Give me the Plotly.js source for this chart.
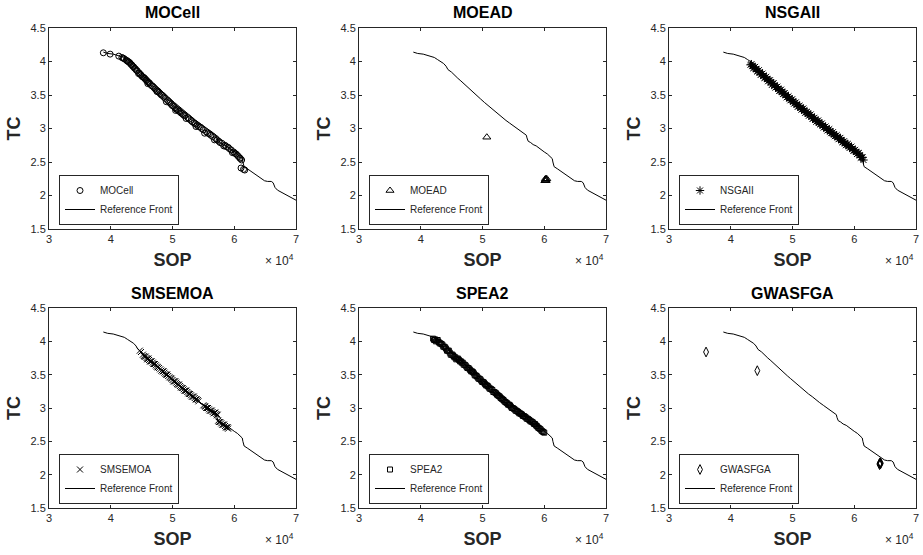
<!DOCTYPE html>
<html>
<head>
<meta charset="utf-8">
<script src="https://cdn.plot.ly/plotly-3.0.1.min.js"></script>
<style>html,body{margin:0;padding:0;background:#fff;}#chart{width:923px;height:555px;}</style>
</head>
<body>
<div id="chart"></div>
<script>
// SOP values are in units of 10^4 (as shown on the axis)
const algorithms = ["MOCell", "MOEAD", "NSGAII", "SMSEMOA", "SPEA2", "GWASFGA"];

const refSOP = [3.88,3.95,4.04,4.12,4.17,4.22,4.27,4.32,4.37,4.41,4.44,4.50,4.55,4.60,4.65,4.70,4.76,4.82,4.87,4.92,4.97,5.03,5.08,5.14,5.20,5.26,5.32,5.38,5.44,5.50,5.56,5.62,5.68,5.71,5.72,5.74,5.78,5.82,5.87,5.91,5.96,6.00,6.05,6.10,6.13,6.14,6.16,6.21,6.27,6.33,6.39,6.44,6.49,6.54,6.60,6.63,6.66,6.70,6.76,6.83,6.90,6.96,7.00];
const refTC  = [4.14,4.12,4.11,4.09,4.08,4.06,4.03,4.00,3.97,3.93,3.88,3.84,3.79,3.75,3.71,3.67,3.62,3.57,3.52,3.48,3.44,3.39,3.35,3.31,3.26,3.21,3.17,3.12,3.08,3.04,3.00,2.96,2.92,2.90,2.86,2.81,2.79,2.76,2.74,2.71,2.68,2.65,2.62,2.57,2.55,2.50,2.43,2.40,2.36,2.32,2.28,2.25,2.22,2.21,2.21,2.19,2.12,2.08,2.05,2.01,1.98,1.95,1.93];

const mocellSOP = [3.88,3.99,4.13,4.18,4.22,4.25,4.28,4.31,4.34,4.37,4.40,4.43,4.46,4.49,4.52,4.55,4.58,4.61,4.64,4.68,4.72,4.76,4.80,4.84,4.88,4.92,4.96,5.00,5.04,5.08,5.12,5.16,5.20,5.25,5.30,5.35,5.40,5.45,5.50,5.55,5.60,5.65,5.70,5.75,5.80,5.85,5.90,5.95,5.99,6.03,6.07,6.10,6.12,6.11,6.15,6.17,
  4.45,4.60,4.75,4.90,5.05,5.22,5.38,5.52,5.68,5.83,5.97,
  4.20,4.265,4.295,4.325,4.355,4.385,4.415,4.475,4.505,4.535,4.565,4.595,4.625,4.66,4.70,4.74,4.78,4.82,4.86,4.94,4.98,5.02,5.06,5.10,5.14,5.18,5.27,5.32,5.37,5.42,5.47,5.57,5.62,5.72,5.77,5.87,5.92,6.01,6.05,6.09];
const mocellTC  = [4.13,4.11,4.08,4.06,4.04,4.02,4.00,3.98,3.95,3.92,3.89,3.86,3.83,3.80,3.77,3.75,3.72,3.69,3.66,3.63,3.59,3.56,3.52,3.49,3.45,3.42,3.38,3.34,3.31,3.28,3.25,3.22,3.19,3.16,3.12,3.08,3.05,3.02,2.98,2.95,2.92,2.88,2.85,2.81,2.78,2.75,2.72,2.68,2.65,2.62,2.58,2.55,2.53,2.41,2.39,2.38,
  3.82,3.67,3.55,3.40,3.27,3.15,3.03,2.93,2.83,2.74,2.64,
  4.05,4.01,3.99,3.96,3.93,3.90,3.87,3.81,3.78,3.76,3.73,3.70,3.68,3.64,3.61,3.57,3.54,3.50,3.47,3.40,3.36,3.33,3.29,3.26,3.23,3.20,3.14,3.10,3.07,3.03,3.00,2.93,2.90,2.83,2.79,2.73,2.70,2.63,2.60,2.56];

const moeadSOP = [5.07,6.01,6.02,6.03,6.04,6.02,6.03];
const moeadTC  = [2.87,2.22,2.23,2.24,2.25,2.25,2.22];

const nsgaSOP = [4.32,4.35,4.38,4.41,4.44,4.47,4.50,4.53,4.56,4.59,4.62,4.65,4.68,4.71,4.74,4.77,4.80,4.83,4.86,4.89,4.92,4.95,4.98,5.01,5.04,5.07,5.10,5.13,5.16,5.19,5.22,5.25,5.28,5.31,5.34,5.37,5.40,5.43,5.46,5.49,5.52,5.55,5.58,5.61,5.64,5.67,5.70,5.73,5.76,5.79,5.82,5.85,5.88,5.91,5.94,5.97,6.00,6.03,6.06,6.09,6.12,6.15,
  4.335,4.365,4.395,4.425,4.455,4.485,4.515,4.545,4.575,4.605,4.635,4.665,4.695,4.725,4.755,4.785,4.815,4.845,4.875,4.905,4.935,4.965,4.995,5.025,5.055,5.085,5.115,5.145,5.175,5.205,5.235,5.265,5.295,5.325,5.355,5.385,5.415,5.445,5.475,5.505,5.535,5.565,5.595,5.625,5.655,5.685,5.715,5.745,5.775,5.805,5.835,5.865,5.895,5.925,5.955,5.985,6.015,6.045,6.075,6.105,6.135];
const nsgaTC  = [3.95,3.93,3.91,3.89,3.86,3.84,3.81,3.79,3.76,3.74,3.72,3.69,3.67,3.64,3.62,3.59,3.57,3.55,3.52,3.50,3.47,3.45,3.43,3.40,3.38,3.36,3.33,3.31,3.29,3.27,3.24,3.22,3.20,3.18,3.15,3.13,3.11,3.09,3.07,3.04,3.02,3.00,2.98,2.96,2.93,2.91,2.89,2.87,2.85,2.83,2.80,2.78,2.76,2.74,2.72,2.70,2.67,2.65,2.63,2.60,2.57,2.53,
  3.96,3.90,3.92,3.85,3.87,3.80,3.82,3.755,3.77,3.705,3.72,3.65,3.675,3.61,3.625,3.56,3.58,3.515,3.53,3.465,3.48,3.42,3.435,3.37,3.39,3.325,3.34,3.28,3.30,3.235,3.25,3.19,3.21,3.145,3.16,3.10,3.12,3.06,3.075,3.015,3.03,2.97,2.99,2.93,2.945,2.885,2.90,2.84,2.86,2.795,2.81,2.75,2.77,2.71,2.73,2.67,2.68,2.62,2.635,2.565,2.57];

const smsSOP = [4.47,4.52,4.55,4.58,4.60,4.62,4.65,4.68,4.70,4.73,4.76,4.80,4.84,4.87,4.90,4.93,4.97,5.00,5.03,5.06,5.09,5.12,5.15,5.18,5.21,5.24,5.27,5.30,5.33,5.36,5.39,5.42,5.50,5.53,5.56,5.59,5.62,5.65,5.68,5.71,5.73,5.74,5.76,5.79,5.82,5.85,5.88,5.90,
  4.49,4.535,4.565,4.59,4.61,4.635,4.66,4.69,4.715,4.745,4.78,4.82,4.855,4.885,4.915,4.95,4.985,5.015,5.045,5.075,5.105,5.135,5.165,5.195,5.225,5.255,5.285,5.315,5.345,5.375,5.41,5.52,5.545,5.575,5.605,5.635,5.665,5.695,5.72,5.75,5.775,5.805,5.835,5.865,5.895];
const smsTC  = [3.86,3.80,3.77,3.75,3.74,3.72,3.70,3.68,3.66,3.64,3.61,3.58,3.55,3.53,3.50,3.48,3.45,3.42,3.40,3.38,3.35,3.33,3.30,3.28,3.26,3.24,3.21,3.19,3.17,3.15,3.13,3.10,3.04,3.02,3.00,2.98,2.96,2.94,2.93,2.91,2.90,2.81,2.79,2.77,2.75,2.73,2.71,2.69,
  3.84,3.78,3.77,3.73,3.74,3.70,3.70,3.66,3.66,3.62,3.60,3.56,3.55,3.51,3.50,3.46,3.44,3.40,3.40,3.36,3.35,3.31,3.30,3.26,3.26,3.22,3.21,3.17,3.17,3.13,3.12,3.03,3.00,3.00,2.96,2.96,2.92,2.93,2.89,2.79,2.79,2.75,2.75,2.71,2.71];

const speaSOP = [4.20,4.23,4.26,4.29,4.32,4.35,4.38,4.41,4.44,4.47,4.50,4.53,4.56,4.59,4.62,4.65,4.68,4.71,4.74,4.77,4.80,4.83,4.86,4.89,4.92,4.95,4.98,5.01,5.04,5.07,5.10,5.13,5.16,5.19,5.22,5.25,5.28,5.31,5.34,5.37,5.40,5.43,5.46,5.49,5.52,5.55,5.58,5.61,5.64,5.67,5.70,5.73,5.76,5.79,5.82,5.85,5.88,5.91,5.94,5.97,6.00,
  4.215,4.245,4.275,4.305,4.335,4.365,4.395,4.425,4.455,4.485,4.515,4.545,4.575,4.605,4.635,4.665,4.695,4.725,4.755,4.785,4.815,4.845,4.875,4.905,4.935,4.965,4.995,5.025,5.055,5.085,5.115,5.145,5.175,5.205,5.235,5.265,5.295,5.325,5.355,5.385,5.415,5.445,5.475,5.505,5.535,5.565,5.595,5.625,5.655,5.685,5.715,5.745,5.775,5.805,5.835,5.865,5.895,5.925,5.955,5.985];
const speaTC  = [4.04,4.03,4.01,3.99,3.97,3.95,3.92,3.89,3.86,3.83,3.80,3.78,3.76,3.74,3.72,3.70,3.68,3.65,3.62,3.60,3.57,3.55,3.52,3.49,3.46,3.44,3.41,3.39,3.36,3.34,3.31,3.29,3.27,3.24,3.22,3.19,3.17,3.14,3.12,3.09,3.07,3.05,3.02,3.00,2.98,2.96,2.94,2.92,2.90,2.88,2.86,2.84,2.82,2.80,2.78,2.76,2.73,2.70,2.68,2.65,2.63,
  4.02,4.00,4.02,3.97,3.96,3.92,3.91,3.86,3.86,3.80,3.80,3.76,3.73,3.74,3.70,3.68,3.65,3.64,3.60,3.59,3.55,3.54,3.49,3.48,3.44,3.43,3.39,3.38,3.34,3.33,3.29,3.28,3.24,3.23,3.20,3.18,3.15,3.13,3.10,3.08,3.05,3.04,3.00,2.99,2.96,2.95,2.92,2.91,2.88,2.87,2.84,2.83,2.80,2.79,2.76,2.74,2.71,2.69,2.66,2.64];

const gwaSOP = [3.60,4.43,6.41,6.42,6.43,6.42,6.41];
const gwaTC  = [3.84,3.56,2.15,2.16,2.17,2.18,2.17];

const xTickVals = [3,4,5,6,7];
const yTickVals = [1.5,2,2.5,3,3.5,4,4.5];

const series = [
  {name: algorithms[0], x: mocellSOP, y: mocellTC, symbol: "circle-open", size: 6},
  {name: algorithms[1], x: moeadSOP, y: moeadTC, symbol: "triangle-up-open", size: 7},
  {name: algorithms[2], x: nsgaSOP, y: nsgaTC, symbol: "asterisk-open", size: 7},
  {name: algorithms[3], x: smsSOP, y: smsTC, symbol: "x-thin-open", size: 6},
  {name: algorithms[4], x: speaSOP, y: speaTC, symbol: "square-open", size: 5},
  {name: algorithms[5], x: gwaSOP, y: gwaTC, symbol: "diamond-tall-open", size: 7}
];

const W = 923, H = 555;
const colsPx = [[49,296],[359,606],[669,916]];
const rowsPx = [[28,229],[308,508]];
const FONT = "Liberation Sans, Arial, Helvetica, sans-serif";
const INK = "#262626";

const traces = [];
const layout = {
  width: W, height: H,
  margin: {l:0, r:0, t:0, b:0},
  paper_bgcolor: "#ffffff",
  plot_bgcolor: "#ffffff",
  font: {family: FONT, color: INK, size: 11},
  showlegend: true,
  annotations: []
};

series.forEach((s, i) => {
  const r = Math.floor(i / 3), c = i % 3;
  const n = i + 1;
  const xa = n === 1 ? "x" : "x" + n;
  const ya = n === 1 ? "y" : "y" + n;
  const lg = n === 1 ? "legend" : "legend" + n;
  const [l, rr] = colsPx[c];
  const [t, b] = rowsPx[r];

  traces.push({
    type: "scatter", mode: "markers", name: s.name, x: s.x, y: s.y,
    xaxis: xa, yaxis: ya, legend: lg,
    marker: {symbol: s.symbol, size: s.size, color: "#000", line: {color: "#000", width: 1}},
    hoverinfo: "skip"
  });
  traces.push({
    type: "scatter", mode: "lines", name: "Reference Front", x: refSOP, y: refTC,
    xaxis: xa, yaxis: ya, legend: lg,
    line: {color: "#000", width: 1},
    hoverinfo: "skip"
  });

  const axBase = {
    showgrid: false, zeroline: false, showline: true, linecolor: INK, linewidth: 1,
    mirror: "ticks", ticks: "inside", ticklen: 3, tickcolor: INK, tickwidth: 1,
    tickfont: {family: FONT, size: 11, color: INK}, automargin: false
  };
  layout["xaxis" + (n === 1 ? "" : n)] = Object.assign({}, axBase, {
    domain: [l / W, rr / W], range: [3, 7], tickvals: xTickVals, anchor: ya,
    title: {text: "SOP", font: {family: FONT, size: 18, color: INK, weight: "bold"}, standoff: 9}
  });
  layout["yaxis" + (n === 1 ? "" : n)] = Object.assign({}, axBase, {
    domain: [1 - b / H, 1 - t / H], range: [1.5, 4.5], tickvals: yTickVals, anchor: xa,
    title: {text: "TC", font: {family: FONT, size: 18, color: INK, weight: "bold"}, standoff: 5}
  });

  layout[lg] = {
    x: (l + 10) / W, y: 1 - (b - 4) / H, xanchor: "left", yanchor: "bottom",
    xref: "paper", yref: "paper",
    bgcolor: "#ffffff", bordercolor: INK, borderwidth: 1,
    font: {family: FONT, size: 10, color: INK},
    tracegroupgap: 0, itemwidth: 30
  };

  layout.annotations.push({
    xref: "paper", yref: "paper", x: (l + rr) / 2 / W, y: 1 - (t - 15) / H,
    xanchor: "center", yanchor: "middle", showarrow: false,
    text: s.name, font: {family: FONT, size: 16, color: "#000", weight: "bold"}
  });
  layout.annotations.push({
    xref: "paper", yref: "paper", x: rr / W, y: 1 - (b + 31) / H,
    xanchor: "right", yanchor: "middle", showarrow: false,
    text: "× 10<sup>4</sup>", font: {family: FONT, size: 12, color: INK}
  });
});

Plotly.newPlot("chart", traces, layout, {displayModeBar: false, staticPlot: true});
</script>
</body>
</html>
